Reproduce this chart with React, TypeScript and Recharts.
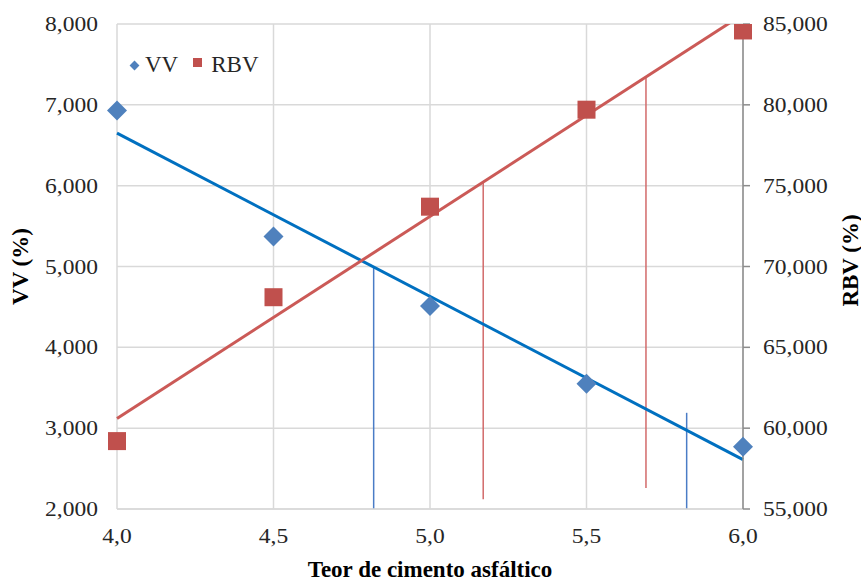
import React from 'react';
import {
  ComposedChart,
  XAxis,
  YAxis,
  CartesianGrid,
  Scatter,
  Line,
  ReferenceLine,
  Label,
} from 'recharts';

// ---- data ----
const teor = [4.0, 4.5, 5.0, 5.5, 6.0];
const vvValues = [6.93, 5.37, 4.51, 3.55, 2.77];
const rbvValues = [59.2, 68.1, 73.7, 79.7, 84.6];

const trendX = [4.0, 6.0];
const vvTrendValues = [6.65, 2.61];
const rbvTrendValues = [60.6, 85.6];

const xTicks = [4.0, 4.5, 5.0, 5.5, 6.0];
const vvTicks = [2, 3, 4, 5, 6, 7, 8];
const rbvTicks = [55, 60, 65, 70, 75, 80, 85];

const vvMarkX = [4.82, 5.82];
const vvMarkFrom = [2.0, 2.0];
const vvMarkTo = [5.0, 3.19];
const rbvMarkX = [5.17, 5.69];
const rbvMarkFrom = [55.6, 56.3];
const rbvMarkTo = [75.2, 81.7];

const seriesNames = ['VV', 'RBV'];

// ---- derived tables ----
const vvData = teor.map((x, i) => ({ x, vv: vvValues[i] }));
const rbvData = teor.map((x, i) => ({ x, rbv: rbvValues[i] }));
const vvTrend = trendX.map((x, i) => ({ x, vv: vvTrendValues[i] }));
const rbvTrend = trendX.map((x, i) => ({ x, rbv: rbvTrendValues[i] }));

const FONT = '"Liberation Serif", "Times New Roman", serif';
const BLUE_MARK = '#4F81BD';
const RED_MARK = '#C0504D';
const BLUE_LINE = '#0070C0';
const RED_LINE = '#CB5A57';
const BLUE_V = '#4A7CC6';
const RED_V = '#D26A6A';

const fmt3 = (v: number) => v.toFixed(3).replace('.', ',');
const fmt1 = (v: number) => v.toFixed(1).replace('.', ',');

const Diamond = (props: any) => {
  const { cx, cy } = props;
  if (cx == null || cy == null) return null;
  const r = 10;
  return (
    <path
      d={`M${cx},${cy - r}L${cx + r},${cy}L${cx},${cy + r}L${cx - r},${cy}Z`}
      fill={BLUE_MARK}
    />
  );
};

const Square = (props: any) => {
  const { cx, cy } = props;
  if (cx == null || cy == null) return null;
  const h = 9;
  return <rect x={cx - h} y={cy - h} width={2 * h} height={2 * h} fill={RED_MARK} />;
};

const titleStyle = {
  fontFamily: FONT,
  fontWeight: 700,
  fontSize: 23,
  fill: '#000',
};

const tickTextStyle = { fontFamily: FONT, fontSize: 21, fill: '#262626' };

const makeTick = (anchor: 'start' | 'middle' | 'end', fmt: (v: number) => string, baseline: string) =>
  (props: any) => {
    const { x, y, payload } = props;
    return (
      <text
        x={0}
        y={0}
        transform={`translate(${x},${y}) scale(1.12,1)`}
        textAnchor={anchor}
        dominantBaseline={baseline}
        style={tickTextStyle}
      >
        {fmt(payload.value)}
      </text>
    );
  };

const XTick = makeTick('middle', fmt1, 'hanging');
const LeftTick = makeTick('end', fmt3, 'central');
const RightTick = makeTick('start', fmt3, 'central');

const LeftTitle = (props: any) => {
  const vb = props.viewBox;
  const cx = vb.x + 10;
  const cy = vb.y + vb.height / 2;
  return (
    <text
      x={cx}
      y={cy}
      transform={`rotate(-90 ${cx} ${cy})`}
      textAnchor="middle"
      dominantBaseline="central"
      style={titleStyle}
    >
      VV (%)
    </text>
  );
};

const RightTitle = (props: any) => {
  const vb = props.viewBox;
  const cx = vb.x + vb.width - 1;
  const cy = vb.y + vb.height / 2 - 6;
  return (
    <text
      x={cx}
      y={cy}
      transform={`rotate(-90 ${cx} ${cy})`}
      textAnchor="middle"
      dominantBaseline="central"
      style={titleStyle}
    >
      RBV (%)
    </text>
  );
};

const BottomTitle = (props: any) => {
  const vb = props.viewBox;
  const cx = vb.x + vb.width / 2;
  const cy = vb.y + 60;
  return (
    <text x={cx} y={cy} textAnchor="middle" dominantBaseline="central" style={titleStyle}>
      Teor de cimento asfáltico
    </text>
  );
};

export default function App() {
  return (
    <div style={{ position: 'absolute', left: 0, top: 0, width: 861, height: 580, background: '#fff' }}>
      <ComposedChart
        width={861}
        height={580}
        margin={{ top: 24, right: 10, bottom: 31, left: 10 }}
        style={{ fontFamily: FONT }}
      >
        <CartesianGrid
          yAxisId="left"
          stroke="#d9d9d9"
          strokeWidth={1.5}
          horizontalValues={vvTicks}
          verticalValues={xTicks}
        />
        <XAxis
          dataKey="x"
          type="number"
          domain={[4, 6]}
          ticks={xTicks}
          tick={XTick}
          axisLine={{ stroke: '#d9d9d9', strokeWidth: 1.5 }}
          tickLine={false}
          tickSize={6}
          tickMargin={13}
          height={40}
          interval={0}
        >
          <Label content={BottomTitle} />
        </XAxis>
        <YAxis
          yAxisId="left"
          type="number"
          domain={[2, 8]}
          ticks={vvTicks}
          tick={LeftTick}
          axisLine={false}
          tickLine={false}
          tickSize={6}
          tickMargin={13}
          width={107}
          interval={0}
        >
          <Label content={LeftTitle} />
        </YAxis>
        <YAxis
          yAxisId="right"
          orientation="right"
          type="number"
          domain={[55, 85]}
          allowDataOverflow
          ticks={rbvTicks}
          tick={RightTick}
          axisLine={{ stroke: '#8c8c8c', strokeWidth: 1.5 }}
          tickLine={{ stroke: '#8c8c8c', strokeWidth: 1.5 }}
          tickSize={7}
          tickMargin={13}
          width={108}
          interval={0}
        >
          <Label content={RightTitle} />
        </YAxis>

        {vvMarkX.map((x, i) => (
          <ReferenceLine
            key={`vvm${i}`}
            yAxisId="left"
            segment={[
              { x, y: vvMarkFrom[i] },
              { x, y: vvMarkTo[i] },
            ]}
            stroke={BLUE_V}
            strokeWidth={1.5}
            ifOverflow="visible"
          />
        ))}
        {rbvMarkX.map((x, i) => (
          <ReferenceLine
            key={`rbvm${i}`}
            yAxisId="right"
            segment={[
              { x, y: rbvMarkFrom[i] },
              { x, y: rbvMarkTo[i] },
            ]}
            stroke={RED_V}
            strokeWidth={1.5}
            ifOverflow="visible"
          />
        ))}

        <Scatter
          name={seriesNames[0]}
          data={vvData}
          dataKey="vv"
          yAxisId="left"
          shape={Diamond}
          isAnimationActive={false}
        />
        <Scatter
          name={seriesNames[1]}
          data={rbvData}
          dataKey="rbv"
          yAxisId="right"
          shape={Square}
          isAnimationActive={false}
        />
        <Line
          data={vvTrend}
          dataKey="vv"
          yAxisId="left"
          stroke={BLUE_LINE}
          strokeWidth={3}
          dot={false}
          activeDot={false}
          legendType="none"
          isAnimationActive={false}
        />
        <Line
          data={rbvTrend}
          dataKey="rbv"
          yAxisId="right"
          stroke={RED_LINE}
          strokeWidth={3}
          dot={false}
          activeDot={false}
          legendType="none"
          isAnimationActive={false}
        />
      </ComposedChart>

      <div
        style={{
          position: 'absolute',
          left: 129,
          top: 50,
          display: 'flex',
          alignItems: 'center',
          fontFamily: FONT,
          fontSize: 23,
          color: '#262626',
          lineHeight: '30px',
          whiteSpace: 'nowrap',
        }}
      >
        <span
          style={{
            display: 'inline-block',
            width: 7,
            height: 7,
            background: BLUE_MARK,
            transform: 'rotate(45deg)',
            marginLeft: 2,
            marginRight: 7,
          }}
        />
        <span>{seriesNames[0]}</span>
        <span
          style={{
            display: 'inline-block',
            width: 9,
            height: 9,
            background: RED_MARK,
            marginLeft: 15,
            marginRight: 9,
            marginTop: -6,
          }}
        />
        <span>{seriesNames[1]}</span>
      </div>
    </div>
  );
}
